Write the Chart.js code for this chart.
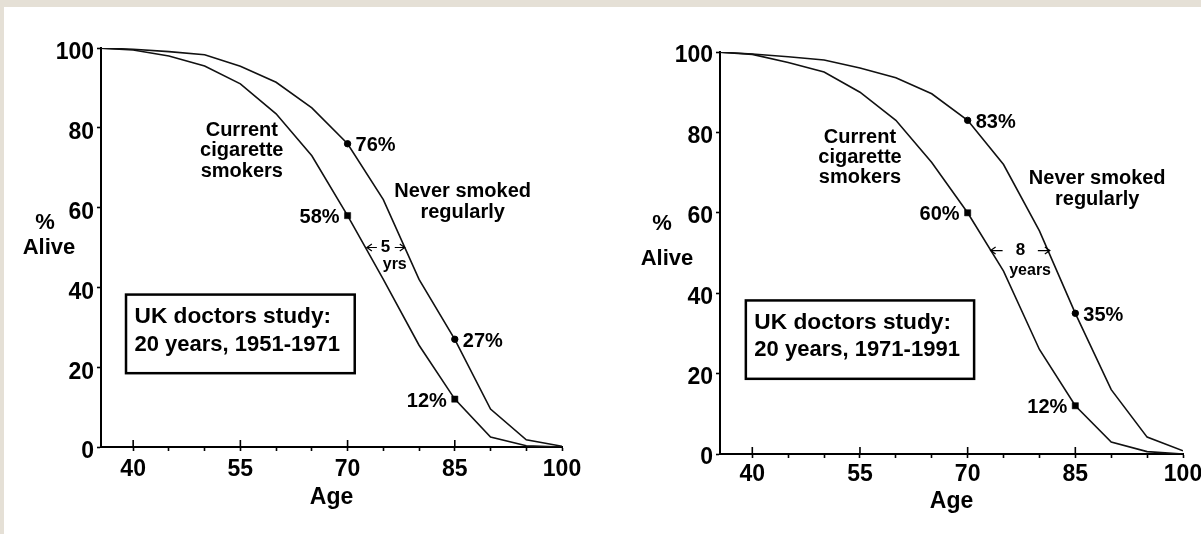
<!DOCTYPE html>
<html>
<head>
<meta charset="utf-8">
<script src="https://cdn.jsdelivr.net/npm/chart.js@4.4.0/dist/chart.umd.min.js"></script>
<style>
html,body{margin:0;padding:0;width:1201px;height:534px;overflow:hidden;background:#e5e0d6;}
#panel{position:absolute;left:4px;top:7px;width:1197px;height:527px;background:#fff;}
#w1{position:absolute;left:0;top:0;width:600px;height:534px;}
#w2{position:absolute;left:600px;top:0;width:640px;height:534px;}
</style>
</head>
<body>
<div id="panel"></div>
<div id="w1"><canvas id="c1" width="600" height="534"></canvas></div>
<div id="w2"><canvas id="c2" width="640" height="534"></canvas></div>
<script>
// ---- data ----
const ages = [35, 40, 45, 50, 55, 60, 65, 70, 75, 80, 85, 90, 95, 100];
const smokers1951 = [100, 99.5, 98, 95.5, 91, 83.5, 73, 58, 42, 25.5, 12, 2.5, 0.3, 0];
const never1951   = [100, 99.7, 99.1, 98.3, 95.4, 91.4, 85, 76, 62, 42, 27, 9.5, 1.8, 0.2];
const smokers1971 = [100, 99.4, 97.4, 95, 90, 83, 72.5, 60, 45.5, 26, 12, 3, 0.6, 0];
const never1971   = [100, 99.5, 98.8, 98, 96, 93.6, 89.6, 83, 72, 55.5, 35, 16, 4.2, 0.8];
const markerAges = [70, 85];
const xTickValues = [40, 45, 50, 55, 60, 65, 70, 75, 80, 85, 90, 95, 100];
const xLabelValues = [40, 55, 70, 85, 100];
const yTickValues = [0, 20, 40, 60, 80, 100];
const smokersName = ['Current', 'cigarette', 'smokers'];
const neverName = ['Never smoked', 'regularly'];
const studyTitle = 'UK doctors study:';
const periods = ['20 years, 1951-1971', '20 years, 1971-1991'];
const gapNumbers = ['5', '8'];
const gapUnits = ['yrs', 'years'];
const xTitle = 'Age';
const yTitle = ['%', 'Alive'];

// ---- rendering ----
const FONT = '"Liberation Sans", Arial, Helvetica, sans-serif';
Chart.defaults.font.family = FONT;
Chart.defaults.color = '#000';

function arrow(ctx, tail, tip, y) {
  const d = Math.sign(tip - tail);
  ctx.beginPath();
  ctx.moveTo(tail, y); ctx.lineTo(tip, y);
  ctx.moveTo(tip - d * 5, y - 3.5); ctx.lineTo(tip, y); ctx.lineTo(tip - d * 5, y + 3.5);
  ctx.stroke();
}

const notesPlugin = {
  id: 'notes',
  afterDraw(chart, args, o) {
    const ctx = chart.ctx;
    const xs = chart.scales.x, ys = chart.scales.y;
    const X = a => xs.getPixelForValue(a), Y = v => ys.getPixelForValue(v);
    ctx.save();
    ctx.fillStyle = '#000'; ctx.strokeStyle = '#000';
    // upward part of labelled ticks
    const base = chart.chartArea.bottom;
    ctx.lineWidth = 1.6;
    xLabelValues.forEach(v => {
      if (v < xs.max) { const px = X(v); ctx.beginPath(); ctx.moveTo(px, base); ctx.lineTo(px, base - 7); ctx.stroke(); }
    });
    // y title (horizontal)
    ctx.textAlign = 'center'; ctx.textBaseline = 'middle';
    ctx.font = 'bold 22px ' + FONT;
    ctx.fillText(yTitle[0], chart.chartArea.left + o.yt.pctDx, Y(o.yt.pctV));
    ctx.fillText(yTitle[1], chart.chartArea.left + o.yt.aliveDx, Y(o.yt.aliveV));
    // curve names
    ctx.font = 'bold 20px ' + FONT;
    [[smokersName, o.smokersLbl], [neverName, o.neverLbl]].forEach(([lines, p]) => {
      lines.forEach((t, i) => ctx.fillText(t, X(p.age), Y(p.v) + (i - (lines.length - 1) / 2) * p.lh));
    });
    // marker value labels
    chart.data.datasets.forEach((ds, di) => {
      const meta = chart.getDatasetMeta(di);
      markerAges.forEach(a => {
        const i = ages.indexOf(a);
        const el = meta.data[i];
        const right = ds.labelSide === 'right';
        ctx.textAlign = right ? 'left' : 'right';
        ctx.fillText(ds.data[i].y + '%', el.x + (right ? 8 : -8), el.y + 2);
      });
    });
    // gap annotation
    const g = o.gap;
    ctx.lineWidth = 1.2;
    const gy = Y(g.v);
    arrow(ctx, X(g.from) + g.len, X(g.from), gy);
    arrow(ctx, X(g.to) - g.len, X(g.to), gy);
    ctx.textAlign = 'center';
    ctx.font = 'bold 17px ' + FONT;
    ctx.fillText(o.gapNum, X(g.num), gy);
    ctx.font = 'bold 16px ' + FONT;
    ctx.fillText(o.gapUnit, X(g.unitAge), Y(g.unitV));
    // study box
    const b = o.box;
    const bx0 = X(b.a0), bx1 = X(b.a1), by0 = Y(b.v0), by1 = Y(b.v1);
    ctx.lineWidth = 2.5;
    ctx.strokeRect(bx0, by0, bx1 - bx0, by1 - by0);
    ctx.textAlign = 'left';
    ctx.font = 'bold 22.7px ' + FONT;
    ctx.fillText(studyTitle, bx0 + 8.5, by0 + 22.5);
    ctx.font = 'bold 22px ' + FONT;
    ctx.fillText(o.period, bx0 + 8.5, by0 + 50);
    ctx.restore();
  }
};

function makeChart(id, never, smokers, c) {
  const radius = r => ages.map(a => markerAges.includes(a) ? r : 0);
  const pts = arr => ages.map((a, i) => ({x: a, y: arr[i]}));
  return new Chart(document.getElementById(id), {
    type: 'line',
    data: {
      datasets: [
        {data: pts(never), borderColor: '#111', borderWidth: 1.6, tension: 0,
         pointStyle: 'circle', pointRadius: radius(3.2), pointBackgroundColor: '#000',
         pointBorderColor: '#000', pointBorderWidth: 1, labelSide: 'right'},
        {data: pts(smokers), borderColor: '#111', borderWidth: 1.6, tension: 0,
         pointStyle: 'rect', pointRadius: radius(4.4), pointBackgroundColor: '#000',
         pointBorderColor: '#000', pointBorderWidth: 0.5, labelSide: 'left'}
      ]
    },
    options: {
      responsive: false, animation: false, devicePixelRatio: 1, events: [],
      layout: {padding: {top: c.top, right: c.right, left: 0, bottom: 0}},
      plugins: {legend: {display: false}, tooltip: {enabled: false}, notes: c.notes},
      scales: {
        x: {
          type: 'linear', min: 35.5, max: 100,
          afterBuildTicks: s => { s.ticks = xTickValues.map(v => ({value: v})); },
          afterFit: s => { s.height = c.xHeight; },
          border: {display: true, color: '#000', width: 2},
          grid: {drawOnChartArea: false, drawTicks: true, tickLength: 4, tickColor: '#000', tickWidth: 1.6},
          ticks: {autoSkip: false, maxRotation: 0, padding: c.xPad, font: {size: 23, weight: 'bold'},
                  callback: v => xLabelValues.includes(v) ? String(v) : ''},
          title: {display: true, text: xTitle, font: {size: 23, weight: 'bold'}, padding: {top: 0, bottom: c.titlePad}}
        },
        y: {
          type: 'linear', min: 0, max: 100,
          afterBuildTicks: s => { s.ticks = yTickValues.map(v => ({value: v})); },
          afterFit: s => { s.width = c.yWidth; },
          border: {display: true, color: '#000', width: 2},
          grid: {drawOnChartArea: false, drawTicks: true, tickLength: 4, tickColor: '#000', tickWidth: 1.6},
          ticks: {padding: 3, labelOffset: c.yLabelOffset, font: {size: 23, weight: 'bold'}}
        }
      }
    },
    plugins: [notesPlugin]
  });
}

makeChart('c1', never1951, smokers1951, {
  top: 48, right: 38, yWidth: 101, xHeight: 87, xPad: 5, titlePad: 23, yLabelOffset: 5,
  notes: {
    yt: {pctV: 56.1, pctDx: -56, aliveV: 49.9, aliveDx: -52},
    smokersLbl: {age: 55.2, v: 74.3, lh: 20.5},
    neverLbl: {age: 86.1, v: 61.3, lh: 21},
    gap: {from: 72.7, to: 78.0, num: 75.3, v: 50.0, unitAge: 76.6, unitV: 45.8, len: 10},
    gapNum: gapNumbers[0], gapUnit: gapUnits[0],
    box: {a0: 39.0, a1: 71.0, v0: 38.2, v1: 18.5},
    period: periods[0]
  }
});

makeChart('c2', never1971, smokers1971, {
  top: 52, right: 57, yWidth: 120, xHeight: 80, xPad: 3, titlePad: 19, yLabelOffset: 4,
  notes: {
    yt: {pctV: 57.3, pctDx: -58, aliveV: 48.5, aliveDx: -53},
    smokersLbl: {age: 55.0, v: 73.8, lh: 20},
    neverLbl: {age: 88.05, v: 66.0, lh: 21},
    gap: {from: 73.2, to: 81.45, num: 77.35, v: 50.6, unitAge: 78.7, unitV: 45.6, len: 12},
    gapNum: gapNumbers[1], gapUnit: gapUnits[1],
    box: {a0: 39.1, a1: 70.9, v0: 38.2, v1: 18.7},
    period: periods[1]
  }
});
</script>
</body>
</html>
